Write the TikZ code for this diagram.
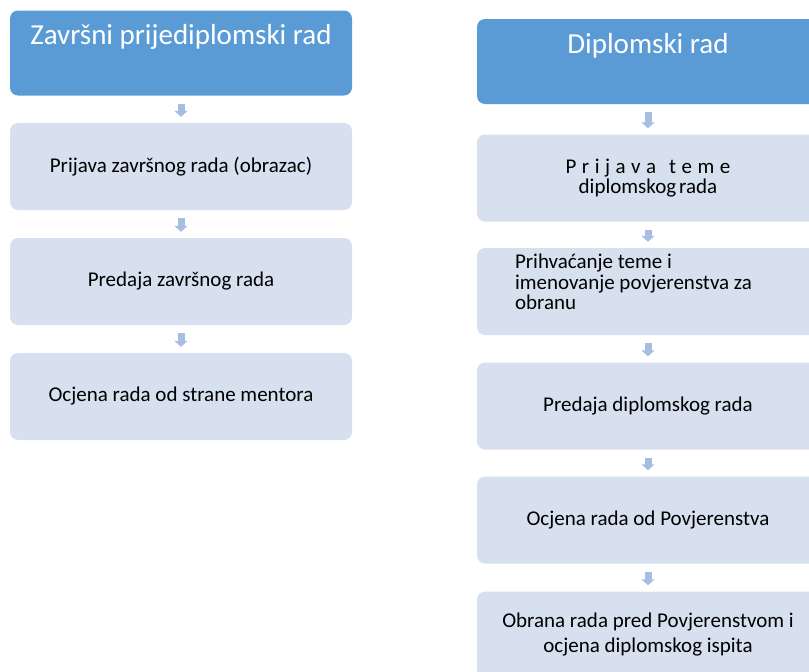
\documentclass[tikz,border=0pt]{standalone}
\usepackage{fontspec}
\setmainfont{Carlito}
\usetikzlibrary{arrows.meta}
\definecolor{headblue}{RGB}{91,155,213}
\definecolor{boxblue}{RGB}{214,224,238}
\definecolor{arrowblue}{RGB}{167,189,226}
\begin{document}
\begin{tikzpicture}[x=1pt,y=-1pt,
  head/.style={fill=headblue,rounded corners=8pt,minimum width=342pt,minimum height=85pt,text=white,font=\fontsize{29}{34}\selectfont,text depth=37pt},
  box/.style={fill=boxblue,rounded corners=8pt,minimum width=342pt,minimum height=87pt,align=center,font=\fontsize{21}{25}\selectfont},
  arr/.style={line width=7pt,arrowblue,-{Triangle[width=13pt,length=6pt]},shorten <=8pt,shorten >=6pt}]
\useasboundingbox (0,0) rectangle (809,672);
% left column
\node[head] (zh) at (181,53) {Završni prijediplomski rad};
\node[box] (z1) at (181,166.5) {Prijava završnog rada (obrazac)};
\node[box] (z2) at (181,281.5) {Predaja završnog rada};
\node[box] (z3) at (181,396.5) {Ocjena rada od strane mentora};
\draw[arr] (zh) -- (z1); \draw[arr] (z1) -- (z2); \draw[arr] (z2) -- (z3);
% right column
\node[head] (dh) at (648,61.5) {Diplomski rad};
\node[box,font=\fontsize{21}{18}\selectfont] (d1) at (648,178) {{\spaceskip=5.5pt P r i j a v a\hspace{13pt}t e m e}\\diplomskog\hspace{3pt}rada};
\node[box,align=left,text width=266pt,font=\fontsize{21}{20.5}\selectfont] (d2) at (648,291.5) {\spaceskip=4.7pt\relax Prihvaćanje teme i\\imenovanje povjerenstva za\\obranu\\[-1pt]\mbox{}};
\node[box] (d3) at (648,406) {Predaja diplomskog rada};
\node[box] (d4) at (648,520) {Ocjena rada od Povjerenstva};
\node[box] (d5) at (648,635) {Obrana rada pred Povjerenstvom i\\ocjena diplomskog ispita};
\draw[arr] (dh) -- (d1); \draw[arr] (d1) -- (d2); \draw[arr] (d2) -- (d3);
\draw[arr] (d3) -- (d4); \draw[arr] (d4) -- (d5);
\end{tikzpicture}
\end{document}
